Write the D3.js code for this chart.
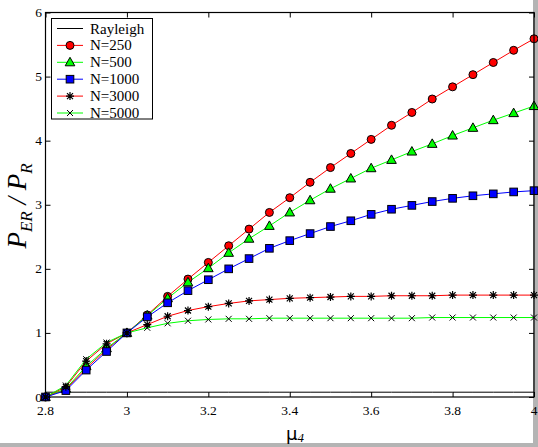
<!DOCTYPE html>
<html>
<head>
<meta charset="utf-8">
<script src="https://cdn.jsdelivr.net/npm/d3@7"></script>
<style>
  html, body { margin: 0; padding: 0; background: #fff; }
  svg { display: block; }
  svg text { font-family: "Liberation Serif", "DejaVu Serif", serif; }
</style>
</head>
<body>
<svg id="chart" width="538" height="447"></svg>
<script>
// mu4 values, 2.8 .. 4.0 by 0.05
var mu = [2.8, 2.85, 2.9, 2.95, 3.0, 3.05, 3.1, 3.15, 3.2, 3.25, 3.3, 3.35, 3.4,
          3.45, 3.5, 3.55, 3.6, 3.65, 3.7, 3.75, 3.8, 3.85, 3.9, 3.95, 4.0];
var rayleigh = [0.075, 0.075, 0.075, 0.075, 0.075, 0.075, 0.075, 0.075, 0.075, 0.075, 0.075, 0.075, 0.075,
                0.075, 0.075, 0.075, 0.075, 0.075, 0.075, 0.075, 0.075, 0.075, 0.075, 0.075, 0.075];
var n250 = [0, 0.12, 0.45, 0.74, 1.0, 1.28, 1.57, 1.84, 2.10, 2.36, 2.62, 2.88, 3.11,
            3.35, 3.58, 3.80, 4.02, 4.24, 4.44, 4.65, 4.84, 5.03, 5.22, 5.41, 5.59];
var n500 = [0, 0.13, 0.48, 0.76, 1.0, 1.27, 1.54, 1.79, 2.01, 2.25, 2.47, 2.67, 2.88,
            3.07, 3.25, 3.41, 3.57, 3.70, 3.83, 3.95, 4.08, 4.20, 4.32, 4.43, 4.54];
var n1000 = [0, 0.10, 0.42, 0.71, 1.0, 1.25, 1.47, 1.66, 1.83, 2.0, 2.16, 2.32, 2.44,
             2.55, 2.66, 2.75, 2.85, 2.93, 2.99, 3.05, 3.10, 3.14, 3.17, 3.20, 3.22];
var n3000 = [0, 0.16, 0.56, 0.83, 1.0, 1.13, 1.26, 1.35, 1.41, 1.46, 1.50, 1.52, 1.54,
             1.55, 1.56, 1.57, 1.57, 1.58, 1.58, 1.58, 1.59, 1.59, 1.59, 1.59, 1.59];
var n5000 = [0, 0.18, 0.59, 0.85, 1.0, 1.08, 1.15, 1.19, 1.21, 1.22, 1.22, 1.23, 1.23,
             1.23, 1.23, 1.23, 1.23, 1.23, 1.23, 1.24, 1.24, 1.24, 1.24, 1.24, 1.24];
var seriesNames = ["Rayleigh", "N=250", "N=500", "N=1000", "N=3000", "N=5000"];
var xTicks = [2.8, 3, 3.2, 3.4, 3.6, 3.8, 4];
var xTickLabels = ["2.8", "3", "3.2", "3.4", "3.6", "3.8", "4"];
var yTicks = [0, 1, 2, 3, 4, 5, 6];

var series = [
  { name: seriesNames[0], values: rayleigh, color: "#000", marker: "none" },
  { name: seriesNames[1], values: n250, color: "#ff0000", marker: "circle" },
  { name: seriesNames[2], values: n500, color: "#00ff00", marker: "triangle" },
  { name: seriesNames[3], values: n1000, color: "#0000ff", marker: "square" },
  { name: seriesNames[4], values: n3000, color: "#ff0000", marker: "star" },
  { name: seriesNames[5], values: n5000, color: "#00ff00", marker: "cross" }
];

// plot frame (avoid window.top clash)
var pL = 45.5, pR = 534, pT = 12.5, pB = 397;
var svg = d3.select("#chart");

// grey window edge
svg.append("rect").attr("x", 533).attr("y", 0).attr("width", 5).attr("height", 447).attr("fill", "#b4b4b4");
svg.append("rect").attr("x", 0).attr("y", 443).attr("width", 538).attr("height", 4).attr("fill", "#b4b4b4");

var x = d3.scaleLinear().domain([2.8, 4]).range([pL, pR]);
var y = d3.scaleLinear().domain([0, 6]).range([pB, pT]);

// axes, ticks pointing inward on all sides
var fmt = function (d, i) { return xTickLabels[i]; };
svg.append("g").attr("transform", "translate(0," + pB + ")")
    .call(d3.axisTop(x).tickValues(xTicks).tickSize(5).tickFormat(""));
svg.append("g").attr("transform", "translate(0," + pT + ")")
    .call(d3.axisBottom(x).tickValues(xTicks).tickSize(5).tickFormat(""));
svg.append("g").attr("transform", "translate(" + pL + ",0)")
    .call(d3.axisRight(y).tickValues(yTicks).tickSize(5).tickFormat(""));
svg.append("g").attr("transform", "translate(" + pR + ",0)")
    .call(d3.axisLeft(y).tickValues(yTicks).tickSize(5).tickFormat(""));
svg.selectAll(".domain").remove();
svg.selectAll(".tick line").attr("stroke", "#000").attr("stroke-width", 1);

// tick labels
svg.append("g").selectAll("text").data(xTicks).enter().append("text")
    .attr("x", function (d) { return x(d); })
    .attr("y", 415)
    .attr("text-anchor", "middle")
    .attr("font-size", 13.5)
    .text(fmt);
svg.append("g").selectAll("text").data(yTicks).enter().append("text")
    .attr("x", 42)
    .attr("y", function (d) { return y(d) + 4.5; })
    .attr("text-anchor", "end")
    .attr("font-size", 13.5)
    .text(function (d) { return d; });

// series lines
var line = d3.line()
    .x(function (d, i) { return x(mu[i]); })
    .y(function (d) { return y(d); });
var plot = svg.append("g");
series.forEach(function (s) {
  plot.append("path")
      .attr("d", line(s.values))
      .attr("fill", "none")
      .attr("stroke", s.color)
      .attr("stroke-width", 1);
});

function drawMarker(g, type, cx, cy) {
  if (type === "circle") {
    g.append("circle").attr("cx", cx).attr("cy", cy).attr("r", 4)
        .attr("fill", "#ff0000").attr("stroke", "#000").attr("stroke-width", 1);
  } else if (type === "triangle") {
    g.append("path")
        .attr("d", "M" + cx + "," + (cy - 5) + "L" + (cx + 4.8) + "," + (cy + 3.5) + "L" + (cx - 4.8) + "," + (cy + 3.5) + "Z")
        .attr("fill", "#00ff00").attr("stroke", "#000").attr("stroke-width", 1);
  } else if (type === "square") {
    g.append("rect").attr("x", cx - 3.8).attr("y", cy - 3.8).attr("width", 7.6).attr("height", 7.6)
        .attr("fill", "#0000ff").attr("stroke", "#000").attr("stroke-width", 1);
  } else if (type === "star") {
    var r = 4;
    g.append("path")
        .attr("d", "M" + (cx - r) + "," + cy + "H" + (cx + r) +
                   "M" + cx + "," + (cy - r) + "V" + (cy + r) +
                   "M" + (cx - 3) + "," + (cy - 3) + "L" + (cx + 3) + "," + (cy + 3) +
                   "M" + (cx - 3) + "," + (cy + 3) + "L" + (cx + 3) + "," + (cy - 3))
        .attr("stroke", "#000").attr("stroke-width", 1.2);
  } else if (type === "cross") {
    g.append("path")
        .attr("d", "M" + (cx - 3) + "," + (cy - 3) + "L" + (cx + 3) + "," + (cy + 3) +
                   "M" + (cx - 3) + "," + (cy + 3) + "L" + (cx + 3) + "," + (cy - 3))
        .attr("stroke", "#000").attr("stroke-width", 1);
  }
}

series.forEach(function (s) {
  if (s.marker === "none") return;
  var g = plot.append("g");
  s.values.forEach(function (v, i) {
    drawMarker(g, s.marker, x(mu[i]), y(v));
  });
});

// frame
svg.append("rect")
    .attr("x", pL).attr("y", pT)
    .attr("width", pR - pL).attr("height", pB - pT)
    .attr("fill", "none").attr("stroke", "#000").attr("stroke-width", 1.2);

// legend
var lg = svg.append("g");
lg.append("rect").attr("x", 51.5).attr("y", 18.5).attr("width", 101).attr("height", 100.5)
    .attr("fill", "#fff").attr("stroke", "#000").attr("stroke-width", 1);
series.forEach(function (s, i) {
  var ly = 28.5 + i * 16.9;
  lg.append("line").attr("x1", 57).attr("x2", 83).attr("y1", ly).attr("y2", ly)
      .attr("stroke", s.color).attr("stroke-width", 1);
  drawMarker(lg, s.marker, 70, ly);
  lg.append("text").attr("x", 90).attr("y", ly + 5)
      .attr("font-size", 15).text(s.name);
});

// axis titles
var yt = svg.append("text")
    .attr("transform", "translate(26,206) rotate(-90)")
    .attr("text-anchor", "middle")
    .attr("font-style", "italic")
    .attr("font-size", 27);
yt.append("tspan").text("P");
yt.append("tspan").attr("font-size", 17).attr("dy", 6).text("ER");
yt.append("tspan").attr("dy", -6).text(" / P");
yt.append("tspan").attr("font-size", 17).attr("dy", 6).text("R");

var xt = svg.append("text")
    .attr("x", 286).attr("y", 440)
    .attr("font-size", 18);
xt.append("tspan").attr("font-family", "'DejaVu Sans', sans-serif").text("\u03bc");
xt.append("tspan").attr("font-size", 13).attr("font-style", "italic").attr("dy", 2).text("4");
</script>
</body>
</html>
